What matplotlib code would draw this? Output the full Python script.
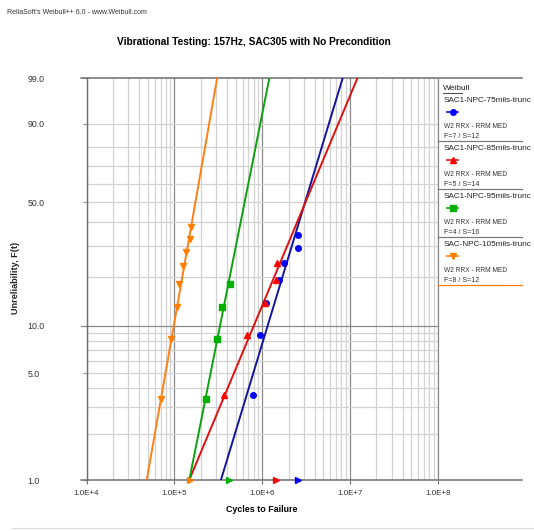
import numpy as np
import matplotlib
matplotlib.use('Agg')
import matplotlib.pyplot as plt
from matplotlib.lines import Line2D
from matplotlib.ticker import FixedLocator, LogLocator, NullFormatter

plt.rcParams['font.family'] = ['Liberation Sans', 'DejaVu Sans']

# ---------------- data ----------------
series_names = ['SAC1-NPC-75mils-trunc', 'SAC1-NPC-85mils-trunc',
                'SAC1-NPC-95mils-trunc', 'SAC-NPC-105mils-trunc']
fit_method = 'W2 RRX - RRM MED'
fail_susp = ['F=7 / S=12', 'F=5 / S=14', 'F=4 / S=16', 'F=8 / S=12']

# fitted 2-parameter weibull (beta, eta)
beta = [1.92, 1.39, 2.92, 3.32]
eta = [3.73e6, 4.05e6, 7.16e5, 1.94e5]

# failures (cycles) and median ranks (%)
blue_t = [787e3, 940e3, 1.12e6, 1.57e6, 1.79e6, 2.58e6, 2.58e6]
blue_F = [3.6, 8.8, 13.9, 19.1, 24.2, 29.4, 34.5]
red_t = [371e3, 668e3, 1.08e6, 1.44e6, 1.47e6]
red_F = [3.6, 8.8, 13.9, 19.1, 24.2]
green_t = [230e3, 309e3, 347e3, 431e3]
green_F = [3.4, 8.3, 13.2, 18.1]
orange_t = [70e3, 91e3, 108e3, 112e3, 125e3, 137e3, 151e3, 155e3]
orange_F = [3.4, 8.3, 13.2, 18.1, 23.0, 27.9, 32.8, 37.7]

# suspensions (cycles), drawn on the bottom edge
susp_t = [2.58e6, 1.43e6, 423e3, 151e3]

y_labels = [1, 5, 10, 50, 90, 99]
y_grid = [2, 3, 4, 5, 6, 7, 8, 9, 20, 30, 40, 50, 60, 70, 80, 90]
x_major = [1e4, 1e5, 1e6, 1e7, 1e8]
x_labels = ['1.0E+4', '1.0E+5', '1.0E+6', '1.0E+7', '1.0E+8']

line_cols = ['#14149c', '#e01010', '#10a010', '#ff8014']
mark_cols = ['#0000ff', '#ff0000', '#00b000', '#ff8000']
markers = ['o', '^', 's', 'v']
pts_t = [blue_t, red_t, green_t, orange_t]
pts_F = [blue_F, red_F, green_F, orange_F]

# ---------------- figure ----------------
W, H = 534, 531
fig = plt.figure(figsize=(W / 100, H / 100), dpi=100)
fx = lambda px: px / W
fy = lambda py: 1 - py / H

ax = fig.add_axes([fx(86.5), fy(480), (437.7 - 86.5) / W, (480 - 78.3) / H])


def fwd(F):
    F = np.clip(np.asarray(F, dtype=float), 1e-6, 100 - 1e-6)
    return np.log(-np.log(1 - F / 100))


def inv(u):
    return 100 * (1 - np.exp(-np.exp(u)))


ax.set_xscale('log')
ax.set_yscale('function', functions=(fwd, inv))
ax.set_xlim(1e4, 1e8)
ax.set_ylim(1, 99)

# grid
ax.yaxis.remove_overlapping_locs = False
ax.yaxis.set_major_locator(FixedLocator(y_labels))
ax.yaxis.set_minor_locator(FixedLocator(y_grid))
ax.set_yticklabels(['%.1f' % v for v in y_labels])
ax.xaxis.set_major_locator(FixedLocator(x_major))
ax.set_xticklabels(x_labels)
ax.xaxis.set_minor_locator(LogLocator(base=10, subs=np.arange(2, 10), numticks=20))
ax.xaxis.set_minor_formatter(NullFormatter())

ax.grid(which='minor', axis='both', color='#d2d2d2', lw=0.9)
ax.grid(which='major', axis='x', color='#8a8a8a', lw=0.9)
ax.axhline(10, xmin=-0.017, xmax=1, color='#8a8a8a', lw=0.9, clip_on=False)
ax.set_axisbelow(True)

for s in ['top', 'bottom']:
    ax.spines[s].set_visible(False)
ax.spines['left'].set_color('#6e6e6e')
ax.spines['right'].set_color('#8a8a8a')
ax.spines['left'].set_linewidth(1.0)
ax.spines['right'].set_linewidth(0.9)
# long top/bottom rules running under the legend panel
ax.axhline(99, xmin=-0.017, xmax=1.24, color='#6e6e6e', lw=1.1, clip_on=False)
ax.axhline(1, xmin=-0.017, xmax=1.24, color='#6e6e6e', lw=1.1, clip_on=False)

ax.tick_params(axis='y', which='major', length=3, width=0.8, color='#8a8a8a',
               pad=39.5, labelsize=6.3, labelcolor='#333333')
ax.tick_params(axis='y', which='minor', length=0)
for lab in ax.get_yticklabels():
    lab.set_horizontalalignment('left')
ax.tick_params(axis='x', which='major', length=3, width=0.8, color='#6e6e6e',
               pad=4.5, labelsize=5.8, labelcolor='#333333')
ax.tick_params(axis='x', which='minor', length=0)

ax.set_xlabel('Cycles to Failure', fontsize=6.4, fontweight='bold', labelpad=5.5)

# ---------------- fitted lines and points ----------------
for i in range(4):
    t_lo = eta[i] * (-np.log(0.99)) ** (1 / beta[i])
    t_hi = eta[i] * (-np.log(0.01)) ** (1 / beta[i])
    ax.plot([t_lo, t_hi], [1, 99], color=line_cols[i], lw=1.4, zorder=3)
    ax.plot(pts_t[i], pts_F[i], ls='none', marker=markers[i], ms=4,
            color=mark_cols[i], mec=mark_cols[i], zorder=4)
    ax.plot([susp_t[i]], [1], ls='none', marker='>', ms=4.5,
            color=mark_cols[i], clip_on=False, zorder=5)

# ---------------- texts ----------------
fig.text(fx(7), fy(13), "ReliaSoft's Weibull++ 6.0 - www.Weibull.com",
         fontsize=5, color='#333333', va='center')
fig.text(fx(254), fy(42), 'Vibrational Testing: 157Hz, SAC305 with No Precondition',
         fontsize=7.3, fontweight='bold', ha='center', va='center')
fig.text(fx(15), fy(278), 'Unreliability, F(t)', rotation=90, fontsize=6.6,
         fontweight='bold', ha='center', va='center', color='#222222')

# ---------------- legend panel ----------------
fig.text(fx(443), fy(88), 'Weibull', fontsize=6, va='center', color='#222222')
fig.add_artist(Line2D([fx(443), fx(462)], [fy(92.8), fy(92.8)], color='#444444', lw=0.7))

top0 = 100
step = 48
sep_cols = ['#7a7a7a', '#7a7a7a', '#7a7a7a', '#ff8000']
for i in range(4):
    y0 = top0 + i * step
    fig.text(fx(443.5), fy(y0), series_names[i], fontsize=5.9, va='center', color='#222222')
    fig.add_artist(Line2D([fx(447), fx(458)], [fy(y0 + 11.5), fy(y0 + 11.5)],
                          color=line_cols[i], lw=1.2))
    fig.add_artist(Line2D([fx(452.5)], [fy(y0 + 11.5)], ls='none', marker=markers[i],
                          ms=4, color=mark_cols[i]))
    fig.text(fx(443.5), fy(y0 + 26.5), fit_method, fontsize=4.8, va='center', color='#333333')
    fig.text(fx(443.5), fy(y0 + 36.5), fail_susp[i], fontsize=5.1, va='center', color='#333333')
    fig.add_artist(Line2D([fx(437.7), fx(522)], [fy(y0 + 40.7), fy(y0 + 40.7)],
                          color=sep_cols[i], lw=0.9))

# faint footer rule
fig.add_artist(Line2D([fx(12), fx(534)], [fy(528), fy(528)], color='#d8d8d8', lw=0.8))

fig.savefig('out.png', dpi=100)
